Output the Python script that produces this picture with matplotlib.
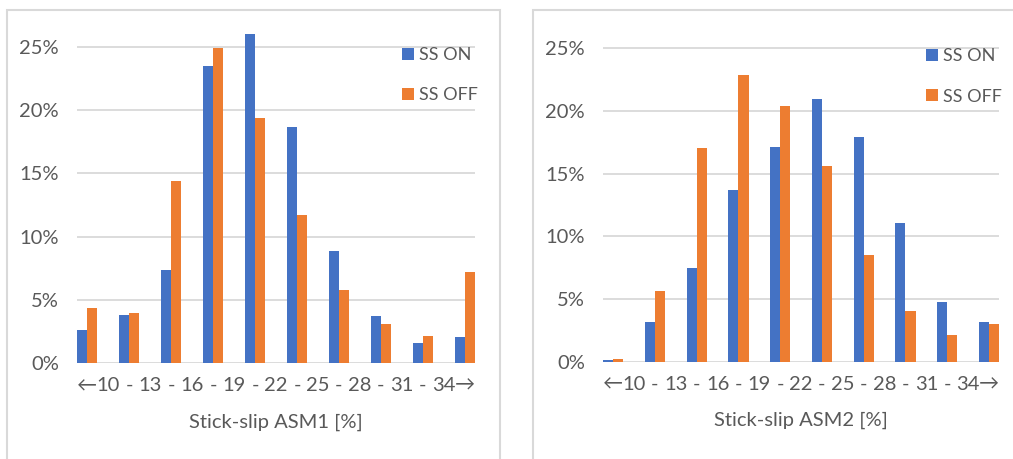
import numpy as np
import matplotlib.pyplot as plt
from matplotlib.patches import Rectangle
from matplotlib.ticker import PercentFormatter

plt.rcParams['font.family'] = ['Lato', 'DejaVu Sans']

# bin edges shown under the bars
bin_edges = [10, 13, 16, 19, 22, 25, 28, 31, 34]

# share of samples per bin [%]
asm1_on = [2.64, 3.78, 7.35, 23.49, 26.03, 18.68, 8.85, 3.70, 1.59, 2.03]
asm1_off = [4.39, 3.96, 14.43, 24.89, 19.40, 11.71, 5.79, 3.09, 2.11, 7.19]
asm2_on = [0.11, 3.16, 7.47, 13.67, 17.10, 20.96, 17.90, 11.04, 4.73, 3.16]
asm2_off = [0.19, 5.61, 17.02, 22.87, 20.35, 15.61, 8.51, 4.04, 2.13, 3.01]

BLUE = '#4472C4'
ORANGE = '#ED7D31'
GREY = '#595959'
GRID = '#d9d9d9'

fig = plt.figure(figsize=(10.13, 4.59), dpi=100)

# chart frames
fig.add_artist(Rectangle((0.0069, -0.05), 0.487, 1.028, transform=fig.transFigure,
                         fill=False, edgecolor=GRID, lw=1.5))
fig.add_artist(Rectangle((0.526, -0.05), 0.6, 1.028, transform=fig.transFigure,
                         fill=False, edgecolor=GRID, lw=1.5))


def draw(ax, on, off, xlabel):
    x = np.arange(len(on))
    w = 0.243
    ax.bar(x - w / 2, on, w, color=BLUE, label='SS ON', zorder=3)
    ax.bar(x + w / 2, off, w, color=ORANGE, label='SS OFF', zorder=3)
    ax.set_xlim(-w, len(on) - 1 + w)
    ax.set_ylim(0, 26.5)
    ax.set_yticks([0, 5, 10, 15, 20, 25])
    ax.yaxis.set_major_formatter(PercentFormatter(decimals=0))
    ax.grid(axis='y', color=GRID, lw=1.3, zorder=0)
    for s in ax.spines.values():
        s.set_visible(False)

    # x labels: arrows/hyphens at group centres, edges between groups
    pos = np.arange(0, len(on) - 0.5, 0.5)
    labels = []
    for i in range(len(on)):
        if i == 0:
            labels.append('←')
        elif i == len(on) - 1:
            labels.append('→')
        else:
            labels.append('-')
        if i < len(bin_edges):
            labels.append(str(bin_edges[i]))
    ax.set_xticks(pos)
    ax.set_xticklabels(labels)
    ax.tick_params(axis='x', length=0, pad=10, labelsize=14.5, colors=GREY)
    ax.tick_params(axis='y', length=0, pad=13, labelsize=14.5, colors=GREY)
    ax.set_xlabel(xlabel, fontsize=14.5, color=GREY, labelpad=14)
    ax.legend(loc='upper right', bbox_to_anchor=(1.025, 0.965), frameon=False,
              fontsize=13, labelcolor=GREY, handlelength=0.65, handleheight=0.65,
              handletextpad=0.3, labelspacing=1.35, borderaxespad=0)


ax1 = fig.add_axes([0.076, 0.209, 0.393, 0.730])
draw(ax1, asm1_on, asm1_off, 'Stick-slip ASM1 [%]')

ax2 = fig.add_axes([0.5953, 0.212, 0.391, 0.724])
draw(ax2, asm2_on, asm2_off, 'Stick-slip ASM2 [%]')

fig.savefig('out.png', dpi=100)
